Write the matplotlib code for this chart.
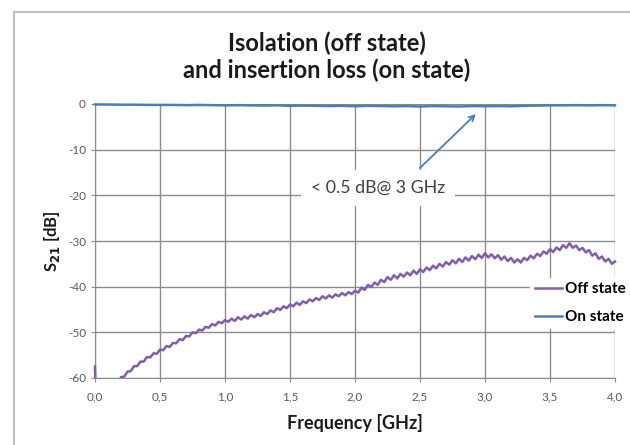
import matplotlib
matplotlib.use("Agg")
import matplotlib.pyplot as plt
from matplotlib.patches import Rectangle
from matplotlib.ticker import FuncFormatter
from matplotlib.transforms import Bbox, TransformedBbox

plt.rcParams['font.family'] = ['Lato', 'DejaVu Sans']

# ---------------------------------------------------------------- data
off_freq = [0.000, 0.005, 0.100, 0.180,
            0.200, 0.225, 0.250, 0.275, 0.300, 0.325, 0.350, 0.375, 0.400, 0.425,
            0.450, 0.475, 0.500, 0.525, 0.550, 0.575, 0.600, 0.625, 0.650, 0.675,
            0.700, 0.725, 0.750, 0.775, 0.800, 0.825, 0.850, 0.875, 0.900, 0.925,
            0.950, 0.975, 1.000, 1.025, 1.050, 1.075, 1.100, 1.125, 1.150, 1.175,
            1.200, 1.225, 1.250, 1.275, 1.300, 1.325, 1.350, 1.375, 1.400, 1.425,
            1.450, 1.475, 1.500, 1.525, 1.550, 1.575, 1.600, 1.625, 1.650, 1.675,
            1.700, 1.725, 1.750, 1.775, 1.800, 1.825, 1.850, 1.875, 1.900, 1.925,
            1.950, 1.975, 2.000, 2.025, 2.050, 2.075, 2.100, 2.125, 2.150, 2.175,
            2.200, 2.225, 2.250, 2.275, 2.300, 2.325, 2.350, 2.375, 2.400, 2.425,
            2.450, 2.475, 2.500, 2.525, 2.550, 2.575, 2.600, 2.625, 2.650, 2.675,
            2.700, 2.725, 2.750, 2.775, 2.800, 2.825, 2.850, 2.875, 2.900, 2.925,
            2.950, 2.975, 3.000, 3.025, 3.050, 3.075, 3.100, 3.125, 3.150, 3.175,
            3.200, 3.225, 3.250, 3.275, 3.300, 3.325, 3.350, 3.375, 3.400, 3.425,
            3.450, 3.475, 3.500, 3.525, 3.550, 3.575, 3.600, 3.625, 3.650, 3.675,
            3.700, 3.725, 3.750, 3.775, 3.800, 3.825, 3.850, 3.875, 3.900, 3.925,
            3.950, 3.975, 4.000]
off_s21 = [-57.5, -63.0, -63.0, -61.5,
           -59.8, -59.7, -58.6, -58.5, -57.4, -57.4, -56.4, -56.4, -55.4, -55.5,
           -54.6, -54.7, -53.8, -53.9, -53.0, -53.2, -52.3, -52.4, -51.5, -51.7,
           -50.8, -50.9, -50.0, -50.2, -49.4, -49.6, -48.8, -49.0, -48.2, -48.5,
           -47.7, -48.0, -47.3, -47.7, -47.0, -47.5, -46.7, -47.2, -46.5, -47.0,
           -46.2, -46.7, -46.0, -46.4, -45.6, -46.0, -45.2, -45.6, -44.7, -45.1,
           -44.3, -44.7, -43.9, -44.3, -43.5, -44.0, -43.2, -43.6, -42.8, -43.2,
           -42.5, -42.9, -42.1, -42.6, -41.9, -42.4, -41.7, -42.1, -41.4, -41.9,
           -41.2, -41.6, -40.9, -41.3, -40.2, -40.7, -39.6, -40.1, -39.1, -39.6,
           -38.5, -39.0, -37.9, -38.5, -37.5, -38.2, -37.2, -37.8, -36.9, -37.5,
           -36.5, -37.2, -36.2, -36.8, -35.8, -36.4, -35.4, -36.0, -35.0, -35.6,
           -34.6, -35.2, -34.2, -34.9, -33.9, -34.6, -33.6, -34.3, -33.3, -34.0,
           -33.0, -33.7, -32.7, -33.6, -32.9, -33.8, -33.1, -34.1, -33.4, -34.4,
           -33.7, -34.7, -34.0, -34.7, -33.7, -34.2, -33.2, -33.8, -32.8, -33.3,
           -32.3, -32.8, -31.8, -32.4, -31.4, -32.0, -30.9, -31.5, -30.5, -31.5,
           -31.0, -32.0, -31.5, -32.5, -32.0, -33.2, -32.7, -33.9, -33.4, -34.5,
           -33.9, -35.0, -34.5]

on_freq = [0.0, 0.1, 0.2, 0.3, 0.4, 0.5, 0.6, 0.7, 0.8, 0.9, 1.0, 1.1, 1.2, 1.3,
           1.4, 1.5, 1.6, 1.7, 1.8, 1.9, 2.0, 2.1, 2.2, 2.3, 2.4, 2.5, 2.6, 2.7,
           2.8, 2.9, 3.0, 3.1, 3.2, 3.3, 3.4, 3.5, 3.6, 3.7, 3.8, 3.9, 4.0]
on_s21 = [-0.1, -0.1, -0.15, -0.15, -0.2, -0.2, -0.2, -0.25, -0.2, -0.25, -0.3,
          -0.25, -0.3, -0.35, -0.3, -0.4, -0.35, -0.4, -0.45, -0.4, -0.5, -0.4,
          -0.45, -0.5, -0.45, -0.55, -0.45, -0.5, -0.55, -0.45, -0.5, -0.45, -0.5,
          -0.4, -0.35, -0.3, -0.3, -0.25, -0.3, -0.25, -0.3]

x_ticks = [0.0, 0.5, 1.0, 1.5, 2.0, 2.5, 3.0, 3.5, 4.0]
y_ticks = [0, -10, -20, -30, -40, -50, -60]

note_text = "< 0.5 dB@ 3 GHz"
note_pos = (2.18, -18.4)
arrow_tail = (2.5, -14.0)
arrow_head = (2.93, -2.2)

# ---------------------------------------------------------------- plot
fig = plt.figure(figsize=(6.3, 4.45), dpi=100)
ax = fig.add_axes([95 / 630, 1 - 378 / 445, 520 / 630, 274 / 445])

# chart frame like the spreadsheet chart area
fig.patches.append(Rectangle((14 / 630, -0.1), 1.2, 0.1 + 1 - 12 / 445,
                             transform=fig.transFigure, fill=False,
                             edgecolor='#c0c0c0', linewidth=1.5))

# clip only in y, so the lines at the x edges are not cut in half
clip = TransformedBbox(Bbox([[-0.02, 0], [1.02, 1.02]]), ax.transAxes)
off_line, = ax.plot(off_freq, off_s21, color='#7f5fa8', linewidth=1.8,
                    label='Off state', zorder=3)
on_line, = ax.plot(on_freq, on_s21, color='#4a7ebb', linewidth=1.8,
                   label='On state', zorder=3)
for ln in (off_line, on_line):
    ln.set_clip_box(clip)

ax.set_xlim(0, 4)
ax.set_ylim(-60, 0)
ax.set_xticks(x_ticks)
ax.set_yticks(y_ticks)
ax.xaxis.set_major_formatter(FuncFormatter(lambda v, p: f"{v:.1f}".replace('.', ',')))
ax.yaxis.set_major_formatter(FuncFormatter(lambda v, p: f"{v:.0f}"))
ax.grid(True, color='#8c8c8c', linewidth=1)
ax.set_axisbelow(True)
ax.tick_params(axis='both', colors='#8c8c8c', labelcolor='#595959',
               labelsize=8.5, length=3, direction='out')
ax.tick_params(axis='x', pad=7)
for side in ['top', 'right']:
    ax.spines[side].set_visible(False)
for side in ['left', 'bottom']:
    ax.spines[side].set_color('#8c8c8c')

ax.set_xlabel("Frequency [GHz]", fontsize=13, fontweight='bold', labelpad=8,
              color='#1a1a1a')
ax.set_ylabel("S$_{\\mathbf{21}}$ [dB]", fontsize=12, fontweight='bold', labelpad=4,
              color='#1a1a1a')

fig.text(327 / 630, 1 - 57 / 445, "Isolation (off state)\nand insertion loss (on state)",
         ha='center', va='center', fontsize=17, fontweight='bold',
         linespacing=1.2, color='#1a1a1a')

ax.text(note_pos[0], note_pos[1], note_text, ha='center', va='center',
        fontsize=12.8, color='#404040',
        bbox=dict(boxstyle='square,pad=0.55', fc='white', ec='none'))
ax.annotate("", xy=arrow_head, xytext=arrow_tail,
            arrowprops=dict(arrowstyle='->', color='#4a7ebb', lw=1.3,
                            shrinkA=0, shrinkB=0))

leg = ax.legend(loc='center left', bbox_to_anchor=(530 / 630, 1 - 303 / 445),
                bbox_transform=fig.transFigure, frameon=True, fancybox=False,
                edgecolor='white', framealpha=1, handlelength=1.8,
                handletextpad=0.2, labelspacing=0.9, borderaxespad=0,
                borderpad=0.3, prop={'weight': 'bold', 'size': 11})

fig.savefig("out.png", dpi=100)
